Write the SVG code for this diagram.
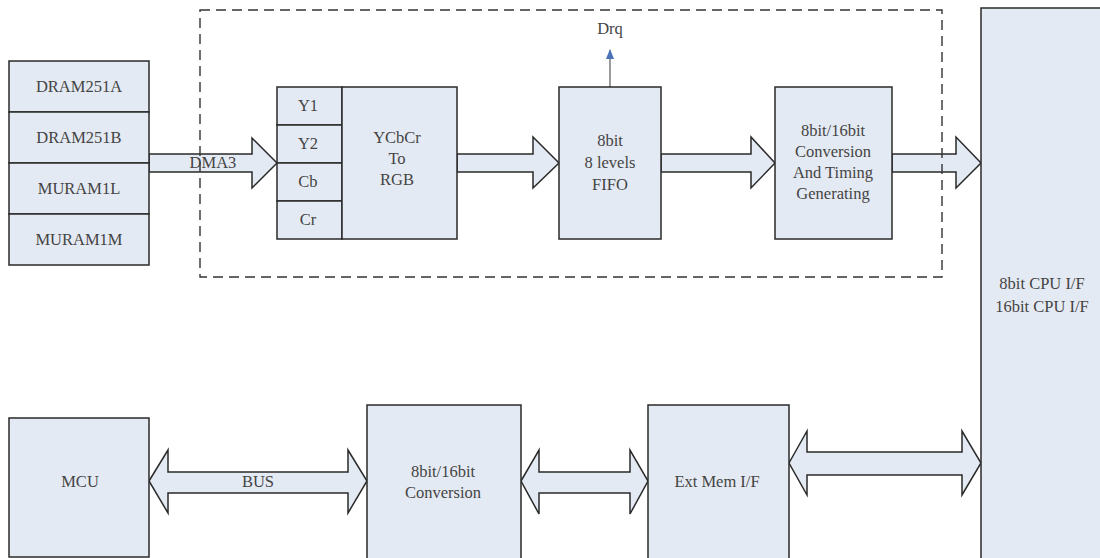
<svg xmlns="http://www.w3.org/2000/svg" width="1100" height="558" viewBox="0 0 1100 558">
<defs>
<style>
.box{fill:#e4eaf3;stroke:#2a2a2a;stroke-width:1.5}
.arr{fill:#e4eaf3;stroke:#2a2a2a;stroke-width:1.5;stroke-linejoin:miter}
.t{font-family:"Liberation Serif","Times New Roman",serif;font-size:16.5px;fill:#444;text-anchor:middle;dominant-baseline:central}
.dash{fill:none;stroke:#333;stroke-width:1.4;stroke-dasharray:10,6}
</style>
<marker id="ah" viewBox="0 0 10 10" refX="9" refY="5" markerWidth="8" markerHeight="8" orient="auto">
<path d="M0,1 L10,5 L0,9 Z" fill="#4a72b8"/>
</marker>
</defs>
<rect width="1100" height="558" fill="#ffffff"/>
<g id="connectors">
<path class="arr" d="M149,154 H252 V138 L277,163 L252,188 V172 H149 Z"/>
<path class="arr" d="M457,154 H533 V137 L559,163 L533,188 V172 H457 Z"/>
<path class="arr" d="M661,154 H751 V137 L775,163 L751,188 V172 H661 Z"/>
<path class="arr" d="M892,154 H956 V137 L981,163 L956,188 V172 H892 Z"/>
<line x1="610" y1="87" x2="610" y2="50" stroke="#666" stroke-width="1.3" marker-end="url(#ah)"/>
<text class="t" x="610" y="28">Drq</text>
<path class="arr" d="M149,481 L168,450 V472 H348 V450 L367,481 L348,513 V493 H168 V513 Z"/>
<text class="t" x="258" y="481">BUS</text>
<path class="arr" d="M521,481 L539,450 V472 H630 V450 L648,481 L630,514 V493 H539 V514 Z"/>
<path class="arr" d="M789,463 L807,431 V452 H962 V431 L981,463 L962,495 V475 H807 V495 Z"/>
</g>
<rect class="dash" x="200" y="10" width="742" height="267"/>
<text class="t" x="213" y="162">DMA3</text>
<g id="mem-stack">
<rect class="box" x="9" y="61" width="140" height="51"/>
<rect class="box" x="9" y="112" width="140" height="51"/>
<rect class="box" x="9" y="163" width="140" height="51"/>
<rect class="box" x="9" y="214" width="140" height="51"/>
<text class="t" x="79" y="86">DRAM251A</text>
<text class="t" x="79" y="137">DRAM251B</text>
<text class="t" x="79" y="188">MURAM1L</text>
<text class="t" x="79" y="239">MURAM1M</text>
</g>
<g id="ycbcr">
<rect class="box" x="277" y="87" width="65" height="38"/>
<rect class="box" x="277" y="125" width="65" height="38"/>
<rect class="box" x="277" y="163" width="65" height="38"/>
<rect class="box" x="277" y="201" width="65" height="38"/>
<rect class="box" x="342" y="87" width="115" height="152"/>
<text class="t" x="308" y="105">Y1</text>
<text class="t" x="308" y="143">Y2</text>
<text class="t" x="308" y="181">Cb</text>
<text class="t" x="308" y="219">Cr</text>
<text class="t" x="397" y="137">YCbCr</text>
<text class="t" x="397" y="158">To</text>
<text class="t" x="397" y="179">RGB</text>
</g>
<g id="fifo">
<rect class="box" x="559" y="87" width="102" height="152"/>
<text class="t" x="610" y="140">8bit</text>
<text class="t" x="610" y="162">8 levels</text>
<text class="t" x="610" y="184">FIFO</text>
</g>
<g id="conv-timing">
<rect class="box" x="775" y="87" width="117" height="152"/>
<text class="t" x="833" y="130">8bit/16bit</text>
<text class="t" x="833" y="151">Conversion</text>
<text class="t" x="833" y="172">And Timing</text>
<text class="t" x="833" y="193">Generating</text>
</g>
<g id="cpu-if">
<rect class="box" x="981" y="8" width="140" height="560"/>
<text class="t" x="1042" y="283">8bit CPU I/F</text>
<text class="t" x="1042" y="306">16bit CPU I/F</text>
</g>
<g id="mcu">
<rect class="box" x="9" y="418" width="140" height="139"/>
<text class="t" x="80" y="481">MCU</text>
</g>
<g id="conv">
<rect class="box" x="367" y="405" width="154" height="160"/>
<text class="t" x="443" y="471">8bit/16bit</text>
<text class="t" x="443" y="492">Conversion</text>
</g>
<g id="extmem">
<rect class="box" x="648" y="405" width="141" height="160"/>
<text class="t" x="717" y="481">Ext Mem I/F</text>
</g>
</svg>
